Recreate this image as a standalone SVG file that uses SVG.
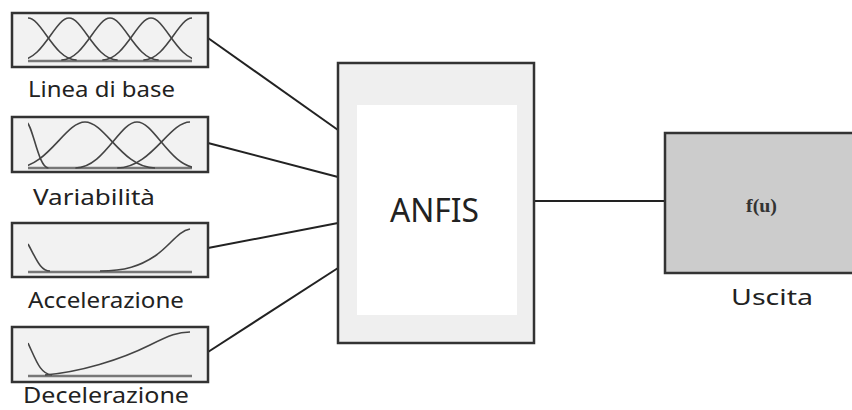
<svg xmlns="http://www.w3.org/2000/svg" width="852" height="410" viewBox="0 0 852 410">
<style>
.box{fill:#f2f2f2;stroke:#333;stroke-width:2.5}
.mf{fill:none;stroke:#444;stroke-width:1.6}
.base{fill:none;stroke:#777;stroke-width:2.5}
.lbl{font-family:"Noto Sans","Open Sans",sans-serif;font-size:22px;fill:#222;text-anchor:start}
.conn{stroke:#222;stroke-width:2;fill:none}
</style>
<defs>
<clipPath id="c1"><rect x="28" y="10" width="164" height="60"/></clipPath>
<clipPath id="c2"><rect x="28" y="115" width="164" height="60"/></clipPath>
<clipPath id="c3"><rect x="28" y="220" width="164" height="60"/></clipPath>
<clipPath id="c4"><rect x="28" y="325" width="164" height="60"/></clipPath>
</defs>
<rect width="852" height="410" fill="#fff"/>
<g id="connectors">
<line class="conn" x1="208" y1="38" x2="338" y2="130"/>
<line class="conn" x1="208" y1="143" x2="338" y2="177"/>
<line class="conn" x1="208" y1="248" x2="338" y2="223"/>
<line class="conn" x1="208" y1="352" x2="338" y2="268"/>
<line class="conn" x1="534" y1="201" x2="665" y2="201"/>
</g>
<g id="linea">
<rect class="box" x="12" y="13" width="196" height="54"/>
<line class="base" x1="28" y1="61" x2="192" y2="61"/>
<g clip-path="url(#c1)">
<path class="mf" d="M28,18 C41.9,18 54.1,60 76.7,60"/>
<path class="mf" d="M20.3,60 C42.9,60 55.1,18 69,18 C82.9,18 95.1,60 117.7,60"/>
<path class="mf" d="M61.3,60 C83.9,60 96.1,18 110,18 C123.9,18 136.1,60 158.7,60"/>
<path class="mf" d="M102.3,60 C124.9,60 137.1,18 151,18 C164.9,18 177.1,60 199.7,60"/>
<path class="mf" d="M143.3,60 C165.9,60 178.1,18 192,18"/>
</g>
<text class="lbl" x="28" y="97" textLength="147" lengthAdjust="spacingAndGlyphs">Linea di base</text>
</g>
<g id="variabilita">
<rect class="box" x="12" y="117" width="196" height="55"/>
<line class="base" x1="28" y1="168" x2="192" y2="168"/>
<g clip-path="url(#c2)">
<path class="mf" d="M26,122 C32.4,122 38,168 48.4,168"/>
<path class="mf" d="M15,168 C47.5,168 65,122 85,122 C105,122 122.5,168 155,168"/>
<path class="mf" d="M75.4,168 C104,168 119.4,122 137,122 C154.6,122 170,168 198.6,168"/>
<path class="mf" d="M117.2,168 C151,168 169.2,122 190,122"/>
</g>
<text class="lbl" x="33" y="205" textLength="122" lengthAdjust="spacingAndGlyphs">Variabilità</text>
</g>
<g id="accelerazione">
<rect class="box" x="12" y="223" width="196" height="54"/>
<line class="base" x1="28" y1="272" x2="192" y2="272"/>
<g clip-path="url(#c3)">
<path class="mf" d="M28,244 C36,258 40,271 50,271"/>
<path class="mf" d="M100,271 C125,271 140,266 155,256 C170,246 178,231 190,229"/>
</g>
<text class="lbl" x="28" y="308" textLength="156" lengthAdjust="spacingAndGlyphs">Accelerazione</text>
</g>
<g id="decelerazione">
<rect class="box" x="12" y="327" width="196" height="55"/>
<line class="base" x1="28" y1="376" x2="192" y2="376"/>
<g clip-path="url(#c4)">
<path class="mf" d="M28,343 C36,360 40,374 52,375"/>
<path class="mf" d="M45,375 C80,372 120,360 150,345 C170,335 178,332 190,332"/>
</g>
<text class="lbl" x="23" y="403" textLength="166" lengthAdjust="spacingAndGlyphs">Decelerazione</text>
</g>
<g id="anfis">
<rect x="338" y="63" width="196" height="280" fill="#efefef" stroke="#333" stroke-width="2.5"/>
<rect x="357" y="105" width="160" height="210" fill="#fff"/>
<text x="390" y="222" font-family="'Noto Sans','Open Sans',sans-serif" font-size="32" fill="#222" textLength="89" lengthAdjust="spacingAndGlyphs">ANFIS</text>
</g>
<g id="uscita">
<rect x="665" y="133" width="200" height="140" fill="#cccccc" stroke="#333" stroke-width="2.5"/>
<text x="746" y="212" font-family="'Liberation Serif',serif" font-size="19" font-weight="bold" fill="#333" textLength="31" lengthAdjust="spacingAndGlyphs">f(u)</text>
<text class="lbl" x="731" y="305" textLength="82" lengthAdjust="spacingAndGlyphs">Uscita</text>
</g>
</svg>
